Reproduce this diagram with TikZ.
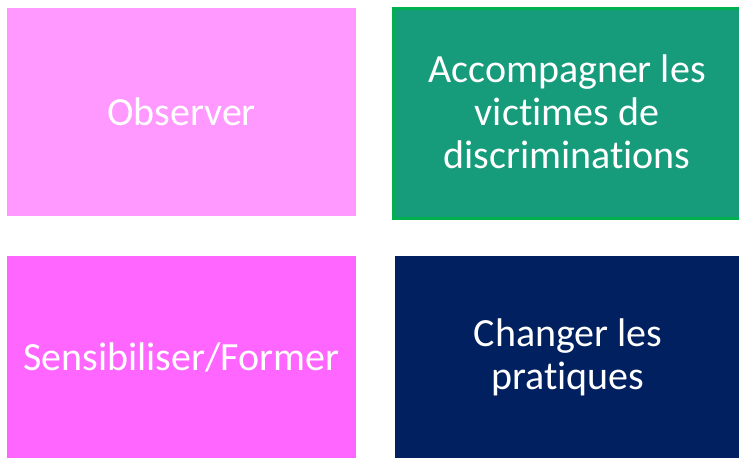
\documentclass[tikz,border=0pt]{standalone}
\usepackage{fontspec}
\setmainfont{Carlito}[Ligatures={NoCommon}]
\definecolor{pinkL}{HTML}{FF99FF}
\definecolor{pinkM}{HTML}{FF66FF}
\definecolor{tealF}{HTML}{169B7B}
\definecolor{greenB}{HTML}{00B050}
\definecolor{navyF}{HTML}{002060}
\begin{document}
\begin{tikzpicture}[x=1pt,y=1pt,
  box/.style={inner sep=0pt, outer sep=0pt},
  lbl/.style={text=white, font=\fontsize{40}{43}\selectfont, align=center}]
\useasboundingbox (0,0) rectangle (739,458);
\fill[pinkL] (7,458-216) rectangle (356,458-8);
\node[lbl] (obs) at (181.5,458-112) {Observer};
\fill[tealF, draw=greenB, line width=3pt] (393,458-218.5) rectangle (741,458-8.5);
\node[lbl] (acc) at (567,458-112) {Accompagner les\\victimes de\\discriminations};
\fill[pinkM] (7,0) rectangle (356,458-256);
\node[lbl] (sen) at (181.5,458-357) {Sensibiliser/Former};
\fill[navyF] (395,0) rectangle (739,458-256);
\node[lbl] (cha) at (568,458-357) {Changer les\\pratiques};
\end{tikzpicture}
\end{document}
